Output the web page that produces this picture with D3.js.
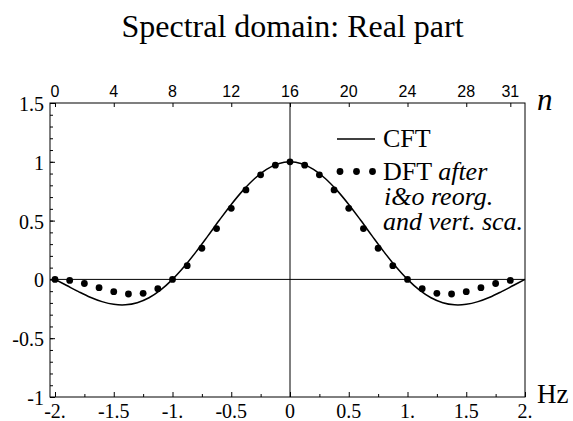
<!DOCTYPE html>
<html><head><meta charset="utf-8">
<script src="https://cdn.jsdelivr.net/npm/d3@7/dist/d3.min.js"></script>
<style>body{margin:0;background:#fff}svg{display:block}</style>
</head><body>
<script>
// Data
const title = "Spectral domain: Real part";
const cftFreq = [-2,-1.9,-1.8,-1.7,-1.6,-1.5,-1.4,-1.3,-1.2,-1.1,-1,-0.9,-0.8,-0.7,-0.6,-0.5,-0.4,-0.3,-0.2,-0.1,0,0.1,0.2,0.3,0.4,0.5,0.6,0.7,0.8,0.9,1,1.1,1.2,1.3,1.4,1.5,1.6,1.7,1.8,1.9,2];
const cftValues = [0,-0.052,-0.104,-0.152,-0.189,-0.212,-0.216,-0.198,-0.156,-0.089,0,0.109,0.234,0.368,0.505,0.637,0.757,0.858,0.936,0.984,1,0.984,0.936,0.858,0.757,0.637,0.505,0.368,0.234,0.109,0,-0.089,-0.156,-0.198,-0.216,-0.212,-0.189,-0.152,-0.104,-0.052,0];
const dftIndex = d3.range(0,32);
const dftValues = [0,-0.009,-0.035,-0.070,-0.104,-0.124,-0.118,-0.079,0,0.117,0.265,0.432,0.604,0.761,0.889,0.971,1,0.971,0.889,0.761,0.604,0.432,0.265,0.117,0,-0.079,-0.118,-0.124,-0.104,-0.070,-0.035,-0.009];
const xTickValues = [-2,-1.5,-1,-0.5,0,0.5,1,1.5,2];
const xTickLabels = ["-2.","-1.5","-1.","-0.5","0","0.5","1.","1.5","2."];
const xMinorTicks = [-1.75,-1.25,-0.75,-0.25,0.25,0.75,1.25,1.75];
const yTickValues = [-1,-0.5,0,0.5,1,1.5];
const yTickLabels = ["-1","-0.5","0","0.5","1","1.5"];
const nTickValues = [0,4,8,12,16,20,24,28,31];
const legendLabels = ["CFT","DFT"];

const W=573,H=421;
const svg=d3.select("body").append("svg").attr("width",W).attr("height",H);
const serif="'Liberation Serif','Times New Roman',serif";
const sans="'Liberation Sans',Arial,sans-serif";

const x=d3.scaleLinear().domain([-2,2]).range([55,525]);
const y=d3.scaleLinear().domain([-1,1.5]).range([397,103]);
const nScale=d3.scaleLinear().domain([0,32]).range([x(-2),x(2)]);
const pLeft=50,pRight=525,pTop=y(1.5),pBottom=y(-1);

// title
svg.append("text").attr("x",292.5).attr("y",37).attr("text-anchor","middle")
  .attr("font-family",serif).attr("font-size",32).text(title);

// frame
svg.append("rect").attr("x",pLeft).attr("y",pTop).attr("width",pRight-pLeft).attr("height",pBottom-pTop)
  .attr("fill","none").attr("stroke","#000").attr("stroke-width",1);

// bottom axis
svg.append("g").attr("transform",`translate(0,${pBottom})`)
  .call(d3.axisTop(x).tickValues(xTickValues).tickSize(5).tickFormat(""))
  .call(g=>g.select(".domain").remove());
svg.append("g").attr("transform",`translate(0,${pBottom})`)
  .call(d3.axisTop(x).tickValues(xMinorTicks).tickSize(3).tickFormat(""))
  .call(g=>g.select(".domain").remove());
svg.append("g").selectAll("text").data(xTickValues).join("text")
  .attr("x",d=>x(d)).attr("y",pBottom+21).attr("text-anchor","middle")
  .attr("font-family",serif).attr("font-size",20).text((d,i)=>xTickLabels[i]);

// left axis
svg.append("g").attr("transform",`translate(${pLeft},0)`)
  .call(d3.axisRight(y).tickValues(yTickValues).tickSize(5).tickFormat(""))
  .call(g=>g.select(".domain").remove());
svg.append("g").attr("transform",`translate(${pLeft},0)`)
  .call(d3.axisRight(y).ticks(25).tickSize(3).tickFormat(""))
  .call(g=>g.select(".domain").remove());
svg.append("g").selectAll("text").data(yTickValues).join("text")
  .attr("x",pLeft-6).attr("y",d=>y(d)+8).attr("text-anchor","end")
  .attr("font-family",serif).attr("font-size",20).text((d,i)=>yTickLabels[i]);

// top axis (n)
svg.append("g").attr("transform",`translate(0,${pTop})`)
  .call(d3.axisBottom(nScale).tickValues(nTickValues).tickSize(4).tickFormat(""))
  .call(g=>g.select(".domain").remove());
svg.append("g").selectAll("text").data(nTickValues).join("text")
  .attr("x",d=>nScale(d)).attr("y",pTop-6).attr("text-anchor","middle")
  .attr("font-family",sans).attr("font-size",16).text(d=>d);

svg.selectAll(".tick line").attr("stroke","#000");

// zero lines
svg.append("line").attr("x1",pLeft).attr("x2",pRight).attr("y1",y(0)).attr("y2",y(0)).attr("stroke","#000");
svg.append("line").attr("x1",x(0)).attr("x2",x(0)).attr("y1",pTop).attr("y2",pBottom).attr("stroke","#000");

// axis names
svg.append("text").attr("x",537).attr("y",110).attr("font-family",serif).attr("font-style","italic")
  .attr("font-size",31).text("n");
svg.append("text").attr("x",537).attr("y",403).attr("font-family",serif).attr("font-size",27).text("Hz");

// CFT line
const line=d3.line().x((d,i)=>x(cftFreq[i])).y(d=>y(d)).curve(d3.curveCatmullRom);
svg.append("path").datum(cftValues).attr("d",line).attr("fill","none").attr("stroke","#000").attr("stroke-width",1.5);

// DFT dots
svg.append("g").selectAll("circle").data(dftValues).join("circle")
  .attr("cx",(d,i)=>nScale(dftIndex[i])).attr("cy",d=>y(d)).attr("r",3.4).attr("fill","#000");

// legend
svg.append("line").attr("x1",337).attr("x2",375).attr("y1",139).attr("y2",139).attr("stroke","#000").attr("stroke-width",1.3);
svg.append("text").attr("x",383).attr("y",147).attr("font-family",serif).attr("font-size",26).text(legendLabels[0]);
svg.append("g").selectAll("circle").data([340,356.5,372.5]).join("circle")
  .attr("cx",d=>d).attr("cy",171.5).attr("r",3.4).attr("fill","#000");
const t2=svg.append("text").attr("x",383).attr("y",180).attr("font-family",serif).attr("font-size",26);
t2.append("tspan").text(legendLabels[1]+" ");
t2.append("tspan").attr("font-style","italic").text("after");
svg.append("text").attr("x",384).attr("y",205).attr("font-family",serif).attr("font-size",26).attr("font-style","italic").text("i&o reorg.");
svg.append("text").attr("x",383).attr("y",230).attr("font-family",serif).attr("font-size",26).attr("font-style","italic").text("and vert. sca.");
</script>
</body></html>
